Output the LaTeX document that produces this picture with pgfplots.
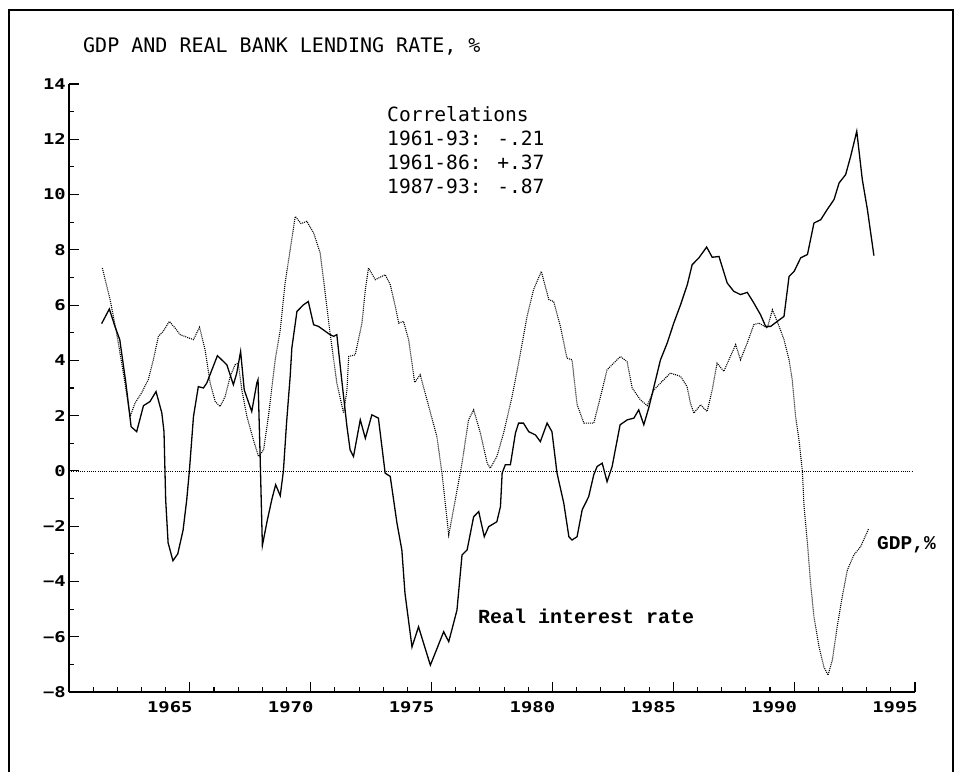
\documentclass[border=0pt]{standalone}
\usepackage{graphicx}
\usepackage{pgfplots}
\pgfplotsset{compat=1.18}
\usepackage{fontspec}
\setmainfont{DejaVu Sans Mono}
\newfontfamily\lmono{Liberation Mono}
\newcommand\tk[1]{\scalebox{1.02}[0.8]{\bfseries\fontsize{18.5}{20}\selectfont #1}}

\begin{document}
\begin{tikzpicture}[x=1pt,y=1pt]
\path[use as bounding box] (0,0) rectangle (963,772);
\draw[line width=1.5pt] (9,0) -- (9,762) -- (953,762) -- (953,0);
\begin{axis}[
  at={(69pt,80pt)}, anchor=south west,
  scale only axis, width=846pt, height=608pt,
  xmin=1960, xmax=1995, ymin=-8, ymax=14,
  axis x line=bottom, axis y line=left,
  axis line style={-, line width=1.6pt, black},
  xtick={1960,1965,...,1995},
  xticklabels={,\tk{1965},\tk{1970},\tk{1975},\tk{1980},\tk{1985},\tk{1990},\tk{1995}},
  minor x tick num=4,
  ytick={-8,-6,...,14},
  yticklabels={\tk{−8},\tk{−6},\tk{−4},\tk{−2},\tk{0},\tk{2},\tk{4},\tk{6},\tk{8},\tk{10},\tk{12},\tk{14}},
  minor y tick num=1,
  tick align=inside,
  major tick length=10pt, minor tick length=5pt,
  tick style={line width=1.1pt, black},
  xticklabel style={anchor=base, xshift=-20pt, yshift=-20pt, inner sep=0pt},
  yticklabel style={anchor=east, xshift=-2pt, inner sep=1pt},
  clip=false,
]
% zero line
\addplot[black, line width=0.8pt, dash pattern=on 1pt off 1.2pt] coordinates {(1960,0) (1994.9,0)};
% GDP, % (dotted)
\addplot[black, line width=1.1pt, dash pattern=on 1pt off 1pt] coordinates {
(1961.38,7.34) (1961.7,6.2) (1961.97,4.99) (1962.25,3.54) (1962.53,1.97) (1962.73,2.45)
(1963.0,2.82) (1963.28,3.3) (1963.49,4.02) (1963.7,4.87) (1963.9,5.05) (1964.15,5.41)
(1964.39,5.17) (1964.6,4.93) (1964.87,4.84) (1965.15,4.75) (1965.4,5.2) (1965.63,4.38)
(1965.84,3.18) (1966.05,2.51) (1966.25,2.33) (1966.46,2.69) (1966.67,3.42) (1966.87,3.84)
(1967.0,3.9) (1967.15,2.93) (1967.36,1.97) (1967.63,1.12) (1967.84,0.52) (1968.05,0.76)
(1968.25,1.97) (1968.53,4.02) (1968.74,5.1) (1968.94,6.8) (1969.15,8.0) (1969.36,9.21)
(1969.6,8.95) (1969.84,9.03) (1970.12,8.61) (1970.39,7.89) (1970.53,6.92) (1970.8,4.99)
(1971.08,3.18) (1971.36,2.09) (1971.5,2.93) (1971.57,4.14) (1971.84,4.2) (1972.12,5.35)
(1972.26,6.56) (1972.39,7.34) (1972.67,6.92) (1973.08,7.1) (1973.29,6.74) (1973.5,5.95)
(1973.64,5.35) (1973.84,5.41) (1974.05,4.75) (1974.19,3.9) (1974.3,3.2) (1974.53,3.48)
(1974.81,2.57) (1975.22,1.24) (1975.43,-0.08) (1975.71,-2.32) (1975.98,-1.05) (1976.26,0.28)
(1976.53,1.85) (1976.74,2.21) (1977.02,1.37) (1977.3,0.28) (1977.43,0.1) (1977.7,0.52)
(1977.98,1.37) (1978.33,2.69) (1978.6,3.9) (1978.95,5.59) (1979.22,6.56) (1979.54,7.22)
(1979.85,6.2) (1980.05,6.13) (1980.33,5.23) (1980.6,4.08) (1980.81,4.02) (1981.02,2.4)
(1981.3,1.73) (1981.71,1.73) (1981.99,2.69) (1982.26,3.66) (1982.81,4.14) (1983.09,3.95)
(1983.3,3.0) (1983.64,2.57) (1983.92,2.36) (1984.2,2.93) (1984.47,3.18) (1984.88,3.54)
(1985.3,3.42) (1985.57,3.05) (1985.71,2.45) (1985.85,2.09) (1986.13,2.39) (1986.4,2.15)
(1986.61,2.93) (1986.81,3.9) (1987.09,3.6) (1987.3,4.02) (1987.58,4.57) (1987.78,4.02)
(1988.06,4.63) (1988.33,5.29) (1988.54,5.35) (1988.89,5.17) (1989.1,5.83) (1989.3,5.41)
(1989.58,4.75) (1989.79,4.02) (1989.92,3.3) (1990.06,1.97) (1990.2,1.12) (1990.34,0.0)
(1990.41,-1.29) (1990.55,-2.62) (1990.68,-4.07) (1990.82,-5.28) (1991.03,-6.37) (1991.23,-7.09)
(1991.4,-7.39) (1991.58,-6.85) (1991.78,-5.64) (1991.99,-4.55) (1992.2,-3.59) (1992.47,-3.04)
(1992.75,-2.74) (1993.09,-2.08)
};
% Real interest rate (solid)
\addplot[black, line width=1.3pt] coordinates {
(1961.35,5.33) (1961.67,5.86) (1961.9,5.23) (1962.1,4.75) (1962.35,3.2) (1962.57,1.6)
(1962.8,1.42) (1963.08,2.36) (1963.35,2.51) (1963.6,2.87) (1963.84,2.1) (1963.93,1.42)
(1964.0,-1.05) (1964.1,-2.6) (1964.3,-3.25) (1964.5,-3.0) (1964.72,-2.14) (1964.87,-1.05)
(1964.98,0) (1965.15,1.97) (1965.35,3.05) (1965.56,3.0) (1965.7,3.18) (1966.14,4.17)
(1966.53,3.84) (1966.8,3.12) (1966.94,3.54) (1967.1,4.32) (1967.25,2.93) (1967.56,2.15)
(1967.77,3.18) (1967.82,3.3) (1967.9,0.76) (1968.0,-2.7) (1968.2,-1.8) (1968.4,-1.0)
(1968.55,-0.5) (1968.74,-0.9) (1968.87,0) (1969.0,1.73) (1969.15,3.42) (1969.22,4.45)
(1969.43,5.77) (1969.7,6.01) (1969.9,6.13) (1970.12,5.29) (1970.32,5.23) (1970.8,4.93)
(1970.95,4.87) (1971.08,4.93) (1971.29,3.24) (1971.5,1.6) (1971.63,0.76) (1971.77,0.52)
(1972.05,1.85) (1972.26,1.18) (1972.53,2.03) (1972.8,1.91) (1973.08,-0.08) (1973.29,-0.2)
(1973.57,-1.9) (1973.77,-2.86) (1973.9,-4.43) (1974.19,-6.37) (1974.46,-5.64) (1974.95,-7.03)
(1975.5,-5.82) (1975.71,-6.18) (1976.05,-5.04) (1976.26,-3.04) (1976.47,-2.86) (1976.74,-1.66)
(1976.95,-1.47) (1977.18,-2.38) (1977.36,-2.02) (1977.7,-1.84) (1977.85,-1.29) (1977.92,-0.08)
(1978.05,0.22) (1978.26,0.22) (1978.47,1.37) (1978.6,1.73) (1978.8,1.73) (1979.02,1.42)
(1979.3,1.3) (1979.5,1.06) (1979.78,1.73) (1979.98,1.42) (1980.19,-0.08) (1980.47,-1.17)
(1980.68,-2.38) (1980.81,-2.5) (1981.02,-2.38) (1981.23,-1.41) (1981.5,-0.93) (1981.71,-0.14)
(1981.85,0.16) (1982.06,0.28) (1982.26,-0.39) (1982.47,0.16) (1982.6,0.76) (1982.8,1.67)
(1983.1,1.85) (1983.37,1.91) (1983.57,2.21) (1983.78,1.67) (1983.99,2.3) (1984.2,3.05)
(1984.47,4.02) (1984.75,4.63) (1985.02,5.35) (1985.3,6.01) (1985.58,6.74) (1985.78,7.46)
(1986.06,7.71) (1986.38,8.1) (1986.61,7.73) (1986.89,7.76) (1987.23,6.8) (1987.5,6.5)
(1987.78,6.38) (1988.06,6.46) (1988.33,6.08) (1988.61,5.65) (1988.82,5.23) (1989.03,5.23)
(1989.3,5.41) (1989.58,5.59) (1989.79,7.04) (1990.0,7.22) (1990.27,7.71) (1990.55,7.83)
(1990.82,8.97) (1991.1,9.09) (1991.37,9.46) (1991.65,9.82) (1991.86,10.42) (1992.13,10.72)
(1992.34,11.39) (1992.59,12.29) (1992.82,10.54) (1993.03,9.46) (1993.3,7.79)
};
\end{axis}
\node[anchor=base west, inner sep=0] at (83,719) {\fontsize{20}{24}\selectfont GDP AND REAL BANK LENDING RATE, \%};
\node[anchor=base west, inner sep=0] at (387,650) {\fontsize{19.6}{24}\selectfont Correlations};
\node[anchor=base west, inner sep=0] at (387,626) {\fontsize{19.6}{24}\selectfont 1961-93: -.21};
\node[anchor=base west, inner sep=0] at (387,602) {\fontsize{19.6}{24}\selectfont 1961-86: +.37};
\node[anchor=base west, inner sep=0] at (387,578) {\fontsize{19.6}{24}\selectfont 1987-93: -.87};
\node[anchor=base west, inner sep=0] at (478,149) {\lmono\bfseries\fontsize{20}{24}\selectfont Real interest rate};
\node[anchor=base west, inner sep=0] at (877,223) {\lmono\bfseries\fontsize{19.5}{24}\selectfont GDP,\%};
\end{tikzpicture}
\end{document}
